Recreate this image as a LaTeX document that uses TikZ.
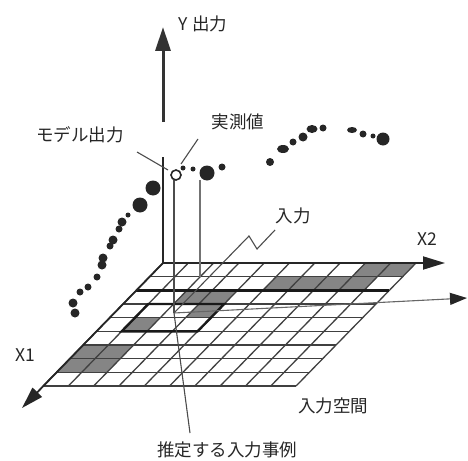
\documentclass[tikz,border=0pt]{standalone}
\usepackage{fontspec}
\setmainfont{Noto Sans CJK JP}
\usetikzlibrary{arrows.meta}
\begin{document}
\begin{tikzpicture}[x=1pt,y=-1pt,
  lbl/.style={font=\fontsize{17.5}{20}\selectfont, text=black!85, inner sep=0pt},
  gridline/.style={black!75, line width=1.3pt},
  thickline/.style={black!90, line width=2.4pt},
  bigaxis/.style={black!80, line width=3pt, -{Triangle[length=24pt,width=15pt]}},
  axisline/.style={black!85, line width=1.8pt, -{Triangle[length=22pt,width=13pt]}},
  thinaxis/.style={black!60, line width=1.1pt, -{Triangle[length=17pt,width=12pt,color=black!85]}},
  dotcol/.style={fill=black!85},
  pointer/.style={black!70, line width=1.1pt},
  cellfill/.style={fill=black!48}]
\useasboundingbox (0,0) rectangle (468,460);

% ---------- input-space grid ----------
\begin{scope}[shift={(163,263)}, x={(25.3pt,0pt)}, y={(-13.33pt,-13.67pt)}]
  \foreach \c/\r in {8/0,9/0,5/1,6/1,7/1,8/1,2/2,3/2,3/3,1/4,0/6,1/6,0/7,1/7}
    \fill[cellfill] (\c,\r) -- (\c+1,\r) -- (\c+1,\r+1) -- (\c,\r+1) -- cycle;
  \foreach \c in {0,...,10}
    \draw[gridline] (\c,0) -- (\c,9);
  \foreach \r in {0,...,9}
    \draw[gridline] (0,\r) -- (10,\r);
  \draw[thickline] (0,2) -- (10,2);
  \draw[thickline] (1,3) -- (4,3) -- (4,5) -- (1,5) -- cycle;
  \coordinate (g00) at (0,0);
\end{scope}

% ---------- named points ----------
\coordinate (inp) at (174,313);
\coordinate (x2tip) at (445,263);
\coordinate (x1tip) at (22,408);
\coordinate (x3tip) at (467,298);
\coordinate (ybot) at (163,122);
\coordinate (ytip) at (163,27);
\coordinate (vtop1) at (163,157);
\coordinate (vtop2) at (174,180);
\coordinate (vtop3) at (200,180);
\coordinate (vbot3) at (200,277);
\coordinate (mopt) at (168,170);
\coordinate (mostart) at (137,152);
\coordinate (jsstart) at (198,139);
\coordinate (jspt) at (181,164);
\coordinate (inz1) at (275,230);
\coordinate (inz2) at (257,249);
\coordinate (inz3) at (249,236);
\coordinate (suistart) at (190,433);

% ---------- axes ----------
\draw[axisline] (g00) -- (x2tip);
\draw[axisline] (g00) -- (x1tip);
\draw[thinaxis] (inp) -- (x3tip);
\draw[bigaxis] (ybot) -- (ytip);

% ---------- vertical projection lines ----------
\draw[black!85, line width=2pt] (g00) -- (vtop1);
\draw[black!70, line width=2.6pt] (inp) -- (vtop2);
\draw[black!55, line width=1.6pt] (vbot3) -- (vtop3);

% ---------- data dots ----------
\foreach \x/\y/\rr in {140/205/7.5,153/188/7.5,128/215/2.5,122/222/4.5,119/229/3.5,
    113/240/4.5,110/246/3.5,103/258/4.5,102/265/4.5,97/277/3.5,88/287/3.5,80/292/3.5,
    73/303/4.5,75/313/4.5,183/168/2.5,193/169/2.5,207/173/7.5,222/167/3.5,
    270/162/4,293/142/3.5,303/137/4.5,323/128/3.5,363/134/3.5,373/136/2.5,383/139/6.5}
  \fill[dotcol] (\x,\y) circle (\rr);
\fill[dotcol] (283,149) ellipse (6 and 4);
\fill[dotcol] (312,129) ellipse (5.5 and 4);
\fill[dotcol] (352,130) ellipse (5 and 3);

% model output (open circle)
\node[circle, draw=black!85, line width=1.6pt, fill=white, minimum size=10pt, inner sep=0pt] (mo) at (176,175) {};

% ---------- labels ----------
\node[lbl] (ylab) at (203,24) {Y 出力};
\node[lbl] (molab) at (80,135) {モデル出力};
\node[lbl] (jslab) at (238,122) {実測値};
\node[lbl] (inlab) at (293,216) {入力};
\node[lbl] (x2lab) at (427,239) {X2};
\node[lbl] (x1lab) at (25,355) {X1};
\node[lbl] (spacelab) at (333,406) {入力空間};
\node[lbl] (suilab) at (227,450) {推定する入力事例};

% ---------- pointers ----------
\draw[pointer] (mostart) -- (mopt);
\draw[pointer] (jsstart) -- (jspt);
\draw[pointer] (inz1) -- (inz2) -- (inz3) -- (inp);
\draw[pointer] (suistart) -- (inp);
\end{tikzpicture}
\end{document}
